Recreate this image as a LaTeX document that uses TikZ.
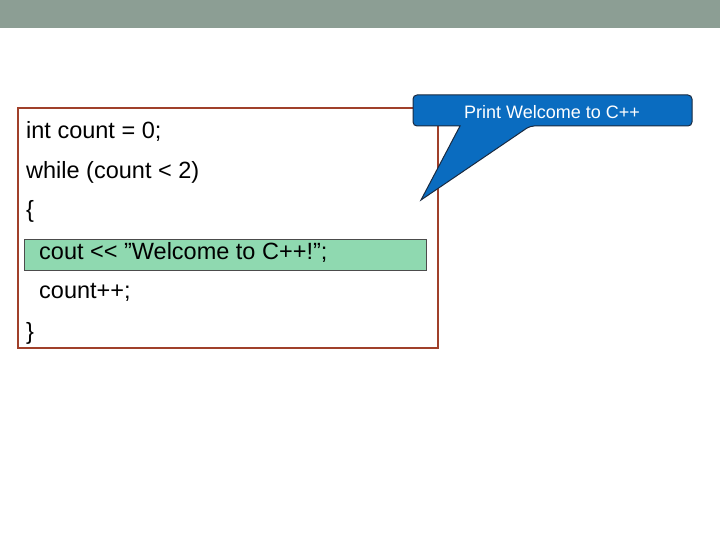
\documentclass[tikz,border=0pt]{standalone}
\usepackage{fontspec}
\setmainfont{Liberation Sans}
\definecolor{bar}{HTML}{8C9E94}
\definecolor{brd}{HTML}{A0402A}
\definecolor{hl}{HTML}{8FD9B0}
\definecolor{cb}{HTML}{0A6CC0}
\definecolor{cbd}{HTML}{1A2A40}
\begin{document}
\begin{tikzpicture}[x=1pt,y=-1pt,
  code/.style={anchor=west,font=\fontsize{23.5}{26}\selectfont,inner sep=0pt}]
\useasboundingbox (0,0) rectangle (720,540);
\fill[bar] (0,0) rectangle (720,28) coordinate (barend);
\draw[brd,line width=2pt] (18,108) rectangle (438,348) coordinate (boxc);
\draw[black!70,fill=hl,line width=1pt] (24,239) rectangle (426,270) coordinate (hlc);
\node[code] (l1) at (26,131) {int count = 0;};
\node[code] (l2) at (26,172) {while (count \textless{} 2)};
\node[code] (l3) at (26,211) {\{};
\node[code] (l4) at (39,252) {cout \textless{}\textless{} \symbol{34}Welcome to C++!\symbol{34};};
\node[code] (l5) at (39,292) {count++;};
\node[code] (l6) at (26,333) {\}};
\coordinate (tip) at (421,200);
\draw[cbd,fill=cb,line width=1pt,rounded corners=4pt] (413,95) -- (692,95) -- (692,126) -- (530,126) [sharp corners]-- (tip) -- (460,126) [rounded corners=4pt]-- (413,126) -- cycle;
\node[text=white,font=\fontsize{18}{20}\selectfont] (cap) at (552,112) {Print Welcome to C++};
\end{tikzpicture}
\end{document}
